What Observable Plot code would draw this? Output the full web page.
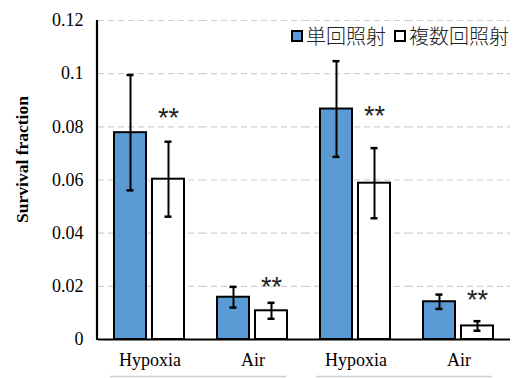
<!DOCTYPE html>
<html>
<head>
<meta charset="utf-8">
<script src="https://cdn.jsdelivr.net/npm/d3@7"></script>
<script src="https://cdn.jsdelivr.net/npm/@observablehq/plot@0.6"></script>
<style>
  html, body { margin: 0; padding: 0; background: #fff; }
  #wrap { position: relative; width: 516px; height: 378px; }
  #wrap svg text { font-family: "Liberation Serif", serif; }
  #wrap svg text.sig { font-family: "Liberation Sans", sans-serif; }
  #legend { position: absolute; top: 21px; left: 291px; font-family: "Noto Sans CJK JP", sans-serif; font-size: 20px; font-weight: 300; color: #222; display: flex; align-items: center; white-space: nowrap; }
  #legend .sw { display: inline-block; width: 8px; height: 8px; border: 2px solid #000; margin-right: 3px; }
  #legend .item { display: flex; align-items: center; margin-right: 8px; }
</style>
</head>
<body>
<div id="wrap"></div>
<script>
const groups = ["Hypoxia-1", "Air-1", "Hypoxia-2", "Air-2"];
const groupLabels = ["Hypoxia", "Air", "Hypoxia", "Air"];
const seriesNames = ["単回照射", "複数回照射"];
const seriesColors = ["#5B9BD5", "#FFFFFF"];
const singleMean = [0.0778, 0.0159, 0.0867, 0.0142];
const singleErr = [0.0217, 0.0039, 0.0180, 0.0027];
const multiMean = [0.0603, 0.0108, 0.0588, 0.0051];
const multiErr = [0.0141, 0.0030, 0.0132, 0.0018];
const sigLabel = ["**", "**", "**", "**"];
const sigY = [0.0840, 0.0205, 0.0850, 0.0155];
const yTicks = [0, 0.02, 0.04, 0.06, 0.08, 0.1, 0.12];
const yTickLabels = ["0", "0.02", "0.04", "0.06", "0.08", "0.1", "0.12"];
const yTitle = "Survival fraction";

const rows = [];
groups.forEach((g, i) => {
  rows.push({group: g, series: seriesNames[0], value: singleMean[i], lo: singleMean[i] - singleErr[i], hi: singleMean[i] + singleErr[i]});
  rows.push({group: g, series: seriesNames[1], value: multiMean[i], lo: multiMean[i] - multiErr[i], hi: multiMean[i] + multiErr[i]});
});
const sig = groups.map((g, i) => ({group: g, series: seriesNames[1], y: sigY[i], label: sigLabel[i]}));

const W = 516, H = 378;
const plot = Plot.plot({
  width: W, height: H,
  marginLeft: 97, marginRight: 6, marginTop: 20, marginBottom: 39,
  style: {fontFamily: "Liberation Serif, serif", fontSize: "18px", color: "#000", background: "#fff"},
  fx: {domain: groups, padding: 0, axis: "bottom", label: null, tickSize: 0, tickPadding: 14,
       tickFormat: d => groupLabels[groups.indexOf(d)]},
  x: {domain: seriesNames, paddingInner: 0.154, paddingOuter: 0.40, axis: null},
  y: {domain: [0, 0.12], ticks: yTicks, tickSize: 0, tickPadding: 15, label: null,
      tickFormat: d => yTickLabels[yTicks.indexOf(d)]},
  color: {domain: seriesNames, range: seriesColors},
  marks: [
    Plot.ruleY(yTicks.slice(1), {stroke: "#d0d0d0", strokeWidth: 1.2, strokeDasharray: "6,4"}),
    Plot.barY(rows, {fx: "group", x: "series", y: "value", fill: "series", stroke: "#000", strokeWidth: 2}),
    Plot.ruleX(rows, {fx: "group", x: "series", y1: "lo", y2: "hi", stroke: "#000", strokeWidth: 2}),
    Plot.tickY(rows, {fx: "group", x: "series", y: "hi", stroke: "#000", strokeWidth: 2.5, insetLeft: 12.5, insetRight: 12.5}),
    Plot.tickY(rows, {fx: "group", x: "series", y: "lo", stroke: "#000", strokeWidth: 2.5, insetLeft: 12.5, insetRight: 12.5}),
    Plot.text(sig, {fx: "group", x: "series", y: "y", text: "label", fontSize: 27, fill: "#222", lineAnchor: "top", dy: -8, className: "sig"}),
    Plot.ruleY([0], {stroke: "#000", strokeWidth: 2})
  ]
});

const ys = plot.scale("y"), fxs = plot.scale("fx");
const svg = d3.select(plot.tagName === "svg" ? plot : plot.querySelector("svg"));
// tag significance texts for sans font
svg.selectAll("text").filter(function () { return this.textContent === "**"; }).classed("sig", true);
// y-axis line and category brackets from the plot's own scales
svg.append("line")
  .attr("x1", 97).attr("x2", 97)
  .attr("y1", ys.apply(0.12)).attr("y2", ys.apply(0) + 1)
  .attr("stroke", "#000").attr("stroke-width", 2.2);
const bw = fxs.bandwidth;
[[0, 1], [2, 3]].forEach(([a, b]) => {
  svg.append("line")
    .attr("x1", fxs.apply(groups[a]) + 12).attr("x2", fxs.apply(groups[b]) + bw - 18)
    .attr("y1", H - 1.5).attr("y2", H - 1.5)
    .attr("stroke", "#cfcfcf").attr("stroke-width", 1.5);
});
// y title
svg.append("text")
  .attr("transform", `translate(22,${(ys.apply(0) + ys.apply(0.12)) / 2 - 20}) rotate(-90)`)
  .attr("text-anchor", "middle").attr("dy", "0.35em")
  .attr("font-weight", "bold").attr("font-size", 17.5)
  .attr("fill", "#000").text(yTitle);

const wrap = document.getElementById("wrap");
wrap.appendChild(plot);

const legend = document.createElement("div");
legend.id = "legend";
seriesNames.forEach((s, i) => {
  const it = document.createElement("span");
  it.className = "item";
  const sw = document.createElement("span");
  sw.className = "sw";
  sw.style.background = seriesColors[i];
  it.appendChild(sw);
  it.appendChild(document.createTextNode(s));
  legend.appendChild(it);
});
wrap.appendChild(legend);
</script>
</body>
</html>
